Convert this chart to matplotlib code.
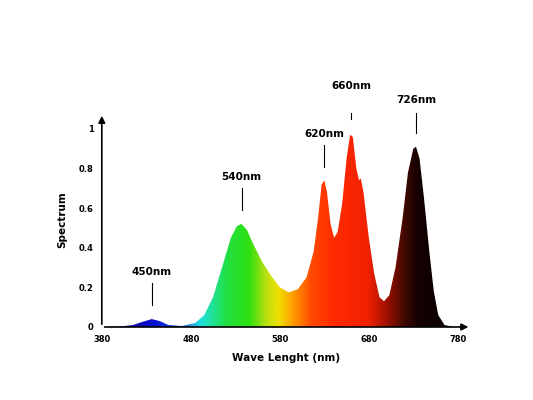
import numpy as np
import matplotlib
matplotlib.use("Agg")
import matplotlib.pyplot as plt
from matplotlib.colors import LinearSegmentedColormap

wl = [380,400,415,425,436,445,455,470,485,495,505,515,525,532,537,543,550,560,570,580,590,600,610,618,623,627,630,633,637,641,645,650,655,659,662,666,669,671,674,680,686,692,697,703,710,718,724,730,733,737,742,748,753,758,765,775]
val = [0,0.002,0.01,0.025,0.04,0.03,0.01,0.005,0.02,0.06,0.15,0.3,0.45,0.51,0.52,0.49,0.42,0.33,0.26,0.2,0.175,0.19,0.25,0.38,0.55,0.72,0.74,0.68,0.52,0.45,0.48,0.62,0.85,0.97,0.96,0.8,0.74,0.75,0.68,0.45,0.27,0.15,0.13,0.16,0.3,0.55,0.78,0.9,0.91,0.85,0.65,0.38,0.18,0.06,0.01,0]
peaks = [("450nm",436,0.04),("540nm",537,0.52),("620nm",630,0.74),("660nm",660,0.98),("726nm",733,0.91)]
xticks = [380,480,580,680,780]
yticks = [0,0.2,0.4,0.6,0.8,1]

fig = plt.figure(figsize=(5.33,4.0),dpi=100)
ax = fig.add_axes([0.191,0.1825,0.693,0.535])
x0,x1 = 380,795
ax.set_xlim(x0,x1); ax.set_ylim(0,1.08)

stops = [(380,"#10008a"),(440,"#0a10d0"),(470,"#1060e0"),(490,"#20e0e0"),(520,"#20e040"),(545,"#30e010"),(565,"#c0e010"),(578,"#f0e000"),(595,"#ff9a00"),(615,"#ff4a00"),(640,"#ff2a00"),(680,"#f02000"),(700,"#a01000"),(720,"#400800"),(735,"#150000"),(795,"#000000")]
cm = LinearSegmentedColormap.from_list("sp",[((w-x0)/(x1-x0),c) for w,c in stops])
grad = np.linspace(0,1,600)[None,:]
poly, = ax.fill(wl,val,color="none",lw=0)
im = ax.imshow(grad,cmap=cm,extent=[x0,x1,0,1.08],aspect="auto",zorder=1)
im.set_clip_path(poly)

for s in ["top","right"]:
    ax.spines[s].set_visible(False)
ax.spines["left"].set_visible(False); ax.spines["bottom"].set_visible(False)
ax.annotate("",xy=(795,0),xytext=(380,0),arrowprops=dict(arrowstyle="-|>",color="black",lw=1.2),annotation_clip=False)
ax.annotate("",xy=(380,1.08),xytext=(380,0),arrowprops=dict(arrowstyle="-|>",color="black",lw=1.2),annotation_clip=False)
ax.set_xticks(xticks); ax.set_yticks(yticks)
ax.set_xticklabels([str(t) for t in xticks],fontsize=6,fontweight="bold")
ax.set_yticklabels(["0","0.2","0.4","0.6","0.8","1"],fontsize=6,fontweight="bold")
ax.tick_params(length=0,pad=6)
ax.set_xlabel("Wave Lenght (nm)",fontsize=7.5,fontweight="bold",labelpad=6)
ax.set_ylabel("Spectrum",fontsize=7.5,fontweight="bold",labelpad=8)

for lab,x,y in peaks:
    ax.plot([x,x],[y+0.07,y+0.18],color="black",lw=0.8)
    ax.text(x,y+0.21,lab,ha="center",va="bottom",fontsize=7.5,fontweight="bold")
fig.savefig("out.png",dpi=100)
